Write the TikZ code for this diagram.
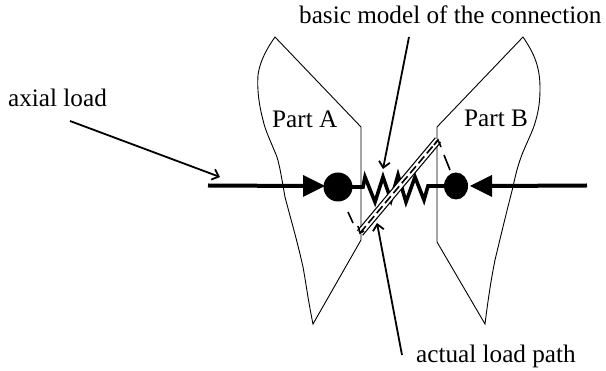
\documentclass[tikz,border=0pt]{standalone}
\usepackage{fontspec}
\setmainfont{Liberation Serif}
\usetikzlibrary{arrows.meta,shapes.geometric}
\tikzset{
  x=1pt,y=-1pt,
  lbl/.style={inner sep=0pt,anchor=base west,font=\fontsize{25.2}{28}\selectfont},
  outlinepart/.style={draw=black,line width=0.9pt,line join=miter},
  pointer/.style={draw=black,line width=1.8pt,-{Straight Barb[length=6pt,width=11pt,line width=1.8pt]}},
  loadline/.style={draw=black,line width=4pt},
  loadhead/.style={fill=black,draw=none},
  joint/.style={fill=black,draw=none},
  springline/.style={draw=black,line width=3.6pt,line join=miter},
  dashlink/.style={draw=black,line width=1.6pt},
  pathouter/.style={draw=black,line width=8pt},
  pathinner/.style={draw=white,line width=5.6pt},
  pathdash/.style={draw=black,line width=1.6pt,dash pattern=on 9pt off 4pt}
}
\begin{document}
\begin{tikzpicture}
\useasboundingbox (0,0) rectangle (606,371);
% parts
\draw[outlinepart] (275,37) -- (361,127) -- (361,240) -- (313,324)
  .. controls (308,300) and (306,283) .. (303,267)
  .. controls (297,240) and (291,220) .. (285,197)
  .. controls (282,180) and (280,167) .. (277,157)
  .. controls (271,142) and (265,130) .. (263,120)
  .. controls (259,105) and (257,90) .. (258,75)
  .. controls (260,60) and (268,47) .. (275,37) -- cycle;
\draw[outlinepart] (523,37) -- (437,127) -- (437,242) -- (485,324)
  .. controls (488,300) and (491,280) .. (495,260)
  .. controls (501,235) and (507,210) .. (513,187)
  .. controls (516,172) and (519,162) .. (523,152)
  .. controls (529,138) and (533,130) .. (535,123)
  .. controls (539,110) and (540,100) .. (540,88)
  .. controls (540,65) and (533,52) .. (523,37) -- cycle;
% coordinates
\coordinate (loadA) at (208,185.5);
\coordinate (tipA) at (325,186);
\coordinate (loadB) at (587,185.5);
\coordinate (tipB) at (470,186);
\coordinate (bandA) at (360,233);
\coordinate (bandB) at (438,140);
\node[joint,circle,minimum size=29pt,inner sep=0pt] (jointA) at (338,187) {};
\node[joint,ellipse,minimum width=24pt,minimum height=27pt,inner sep=0pt] (jointB) at (456,186) {};
% loads
\draw[loadline] (loadA) -- (305,186);
\fill[loadhead] (tipA) -- (303,175) -- (303,197) -- cycle;
\draw[loadline] (loadB) -- (490,186);
\fill[loadhead] (tipB) -- (492,175) -- (492,197) -- cycle;
% spring
\draw[springline] (jointA.center) -- (363,187) -- (365,177) -- (375,202) -- (383,177) -- (391,200)
  -- (398,175) -- (406,202) -- (415,177) -- (424,200) -- (428,186) -- (jointB.center);
% actual path band
\draw[pathouter] (bandA) -- (bandB);
\draw[pathinner] (bandA) -- (bandB);
\draw[pathdash] (bandA) -- (bandB);
% dashed links
\draw[dashlink] (348,212) -- (353,223);
\draw[dashlink] (450,170) -- (444,155);
\draw[dashlink] (441,147) -- (bandB) -- (434,145);
\draw[dashlink] (358,226) -- (bandA) -- (364,231);
% text
\node[lbl] (basic) at (299,24) {basic model of the connection};
\node[lbl] (axial) at (8,107) {axial load};
\node[lbl] (parta) at (272,128) {Part A};
\node[lbl] (partb) at (464,127) {Part B};
\node[lbl] (actual) at (416,363) {actual load path};
% pointers
\coordinate (axS) at (70,121);
\coordinate (axE) at (220,177);
\coordinate (baS) at (409,37);
\coordinate (baE) at (383,169);
\coordinate (acS) at (402,355);
\coordinate (acE) at (377,223);
\draw[pointer] (axS) -- (axE);
\draw[pointer] (baS) -- (baE);
\draw[pointer] (acS) -- (acE);
\end{tikzpicture}
\end{document}
